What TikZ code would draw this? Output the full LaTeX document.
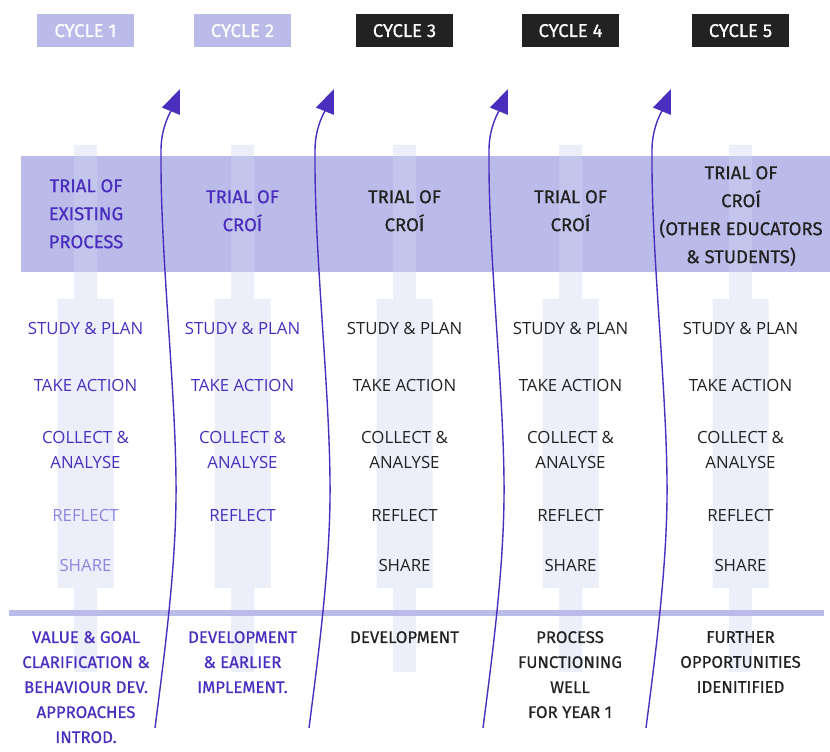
\documentclass[tikz,border=0pt]{standalone}
\usepackage{fontspec}
\setmainfont{Open Sans}
\newfontfamily\boldish[FakeBold=0.7]{Fira Sans}
\usetikzlibrary{arrows.meta,calc}
\definecolor{lav}{RGB}{187,187,234}
\definecolor{ink}{RGB}{74,46,190}
\definecolor{pale}{RGB}{140,133,224}
\definecolor{dark}{RGB}{34,34,34}
\definecolor{post}{RGB}{207,212,240}

\begin{document}
\begin{tikzpicture}[x=1pt, y=1pt,
  cycbox/.style={minimum width=97pt, minimum height=33pt, inner sep=0pt, text height=13pt, text depth=0pt, text=white, font=\boldish\fontsize{18.5}{22}\selectfont},
  trial/.style={anchor=north, inner sep=0pt, align=center, font=\boldish\fontsize{18.5}{28}\selectfont},
  stage/.style={anchor=north, inner sep=0pt, align=center, font=\fontsize{16.8}{25}\selectfont},
  result/.style={anchor=north, inner sep=0pt, align=center, font=\boldish\fontsize{16.8}{25}\selectfont},
  flow/.style={draw=ink, line width=1.4pt, -{Triangle[length=24pt, width=19pt]}}]
\useasboundingbox (0,0) rectangle (830,752);
\fill[lav] (21,480) rectangle (830,596);
\foreach \c in {85.5,242.5,404.5,570.5,740.5}
  \fill[post, opacity=.4] ({\c-11.5},80) -- ({\c-11.5},164) -- ({\c-28},164) -- ({\c-28},453) -- ({\c-11.5},453) -- ({\c-11.5},607)
    -- ({\c+11.5},607) -- ({\c+11.5},453) -- ({\c+28},453) -- ({\c+28},164) -- ({\c+11.5},164) -- ({\c+11.5},80) -- cycle;
\draw[lav, line width=6pt] (9,139) -- (824,139);

\node[cycbox, fill=lav] (cyc1) at (85.5,721.5) {CYCLE 1};
\node[cycbox, fill=lav] (cyc2) at (242.5,721.5) {CYCLE 2};
\node[cycbox, fill=dark] (cyc3) at (404.5,721.5) {CYCLE 3};
\node[cycbox, fill=dark] (cyc4) at (570.5,721.5) {CYCLE 4};
\node[cycbox, fill=dark] (cyc5) at (740.5,721.5) {CYCLE 5};

\node[trial, text=ink] (trial1) at (86,573) {TRIAL OF\\EXISTING\\PROCESS};
\node[trial, text=ink] (trial2) at (242.5,562) {TRIAL OF\\CROÍ};
\node[trial, text=dark] (trial3) at (404.5,562) {TRIAL OF\\CROÍ};
\node[trial, text=dark] (trial4) at (570.5,562) {TRIAL OF\\CROÍ};
\node[trial, text=dark] (trial5) at (741,586) {TRIAL OF\\CROÍ\\(OTHER EDUCATORS\\\& STUDENTS)};

\foreach \i/\c/\col in {1/85.5/ink,2/242.5/ink,3/404.5/dark,4/570.5/dark,5/740.5/dark} {
  \node[stage, text=\col] (plan\i) at (\c,430) {STUDY \& PLAN};
  \node[stage, text=\col] (act\i) at (\c,373) {TAKE ACTION};
  \node[stage, text=\col] (coll\i) at (\c,321) {COLLECT \&\\ANALYSE};
}
\foreach \i/\c/\col in {1/85.5/pale,2/242.5/ink,3/404.5/dark,4/570.5/dark,5/740.5/dark}
  \node[stage, text=\col] (refl\i) at (\c,243) {REFLECT};
\foreach \i/\c/\col in {1/85.5/pale,3/404.5/dark,4/570.5/dark,5/740.5/dark}
  \node[stage, text=\col] (share\i) at (\c,193) {SHARE};

\node[result, text=ink] (out1) at (86,121) {VALUE \& GOAL\\CLARIFICATION \&\\BEHAVIOUR DEV.\\APPROACHES\\INTROD.};
\node[result, text=ink] (out2) at (242.5,121) {DEVELOPMENT\\\& EARLIER\\IMPLEMENT.};
\node[result, text=dark] (out3) at (404.5,121) {DEVELOPMENT};
\node[result, text=dark] (out4) at (570,121) {PROCESS\\FUNCTIONING\\WELL\\FOR YEAR 1};
\node[result, text=dark] (out5) at (740.5,121) {FURTHER\\OPPORTUNITIES\\IDENITIFIED};

\foreach \i/\o in {1/0,2/154,3/328,4/491} {
  \coordinate (s\i) at (155+\o,24);
  \coordinate (m\i) at (176+\o,272);
  \coordinate (u\i) at (161+\o,602);
  \coordinate (t\i) at (180+\o,663);
  \draw[flow] (s\i) .. controls ($(s\i)+(10,78)$) and ($(m\i)+(1,-80)$) .. (m\i)
    .. controls ($(m\i)+(-1,100)$) and ($(u\i)+(-1,-100)$) .. (u\i)
    .. controls ($(u\i)+(0,23)$) and ($(t\i)+(-9,-22)$) .. (t\i);
}
\end{tikzpicture}
\end{document}
